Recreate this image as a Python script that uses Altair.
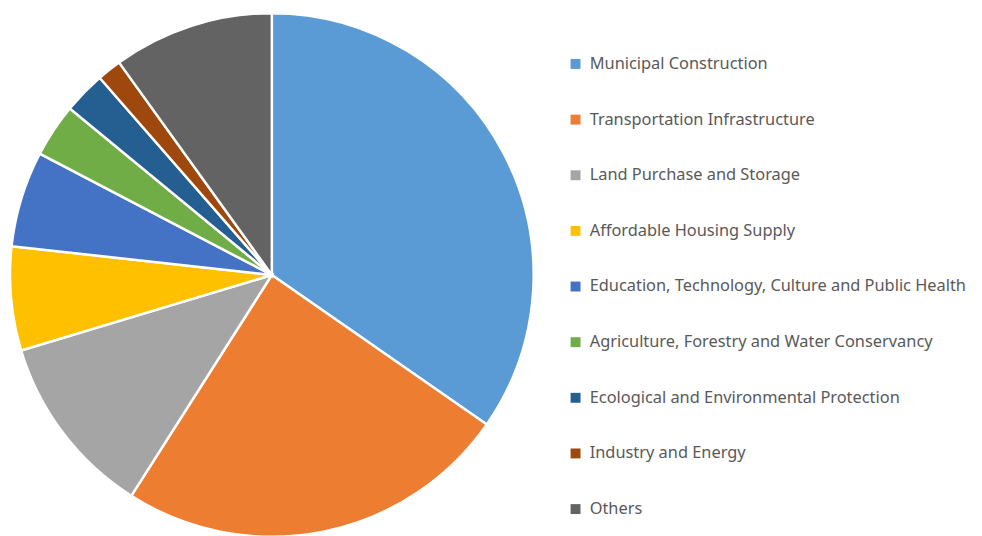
import altair as alt
import pandas as pd

categories = [
    "Municipal Construction",
    "Transportation Infrastructure",
    "Land Purchase and Storage",
    "Affordable Housing Supply",
    "Education, Technology, Culture and Public Health",
    "Agriculture, Forestry and Water Conservancy",
    "Ecological and Environmental Protection",
    "Industry and Energy",
    "Others",
]
shares = [34.6, 24.3, 11.3, 6.4, 5.9, 3.3, 2.6, 1.5, 9.9]
colors = ["#5B9BD5", "#ED7D31", "#A5A5A5", "#FFC000", "#4472C4",
          "#70AD47", "#255E91", "#9E480E", "#636363"]

df = pd.DataFrame({"category": categories, "share": shares,
                   "idx": list(range(len(categories)))})

chart = alt.Chart(df).mark_arc(radius=264, stroke="white", strokeWidth=2.5).encode(
    theta=alt.Theta("share:Q", stack=True),
    order=alt.Order("idx:Q"),
    x=alt.value(266),
    y=alt.value(267),
    color=alt.Color(
        "category:N",
        scale=alt.Scale(domain=categories, range=colors),
        sort=categories,
        legend=alt.Legend(
            title=None,
            orient="none",
            legendX=564,
            legendY=46,
            symbolType="square",
            symbolSize=100,
            symbolStrokeWidth=0,
            labelFont="Noto Sans",
            labelFontSize=16.5,
            labelColor="#595959",
            labelOffset=6,
            rowPadding=39.1,
            padding=0,
            labelLimit=500,
        ),
    ),
).properties(
    width=974,
    height=528,
    autosize=alt.AutoSizeParams(type="none"),
    padding=0,
).configure_view(stroke=None)

chart.save("out.html", embed_options={"renderer": "svg", "actions": False})
